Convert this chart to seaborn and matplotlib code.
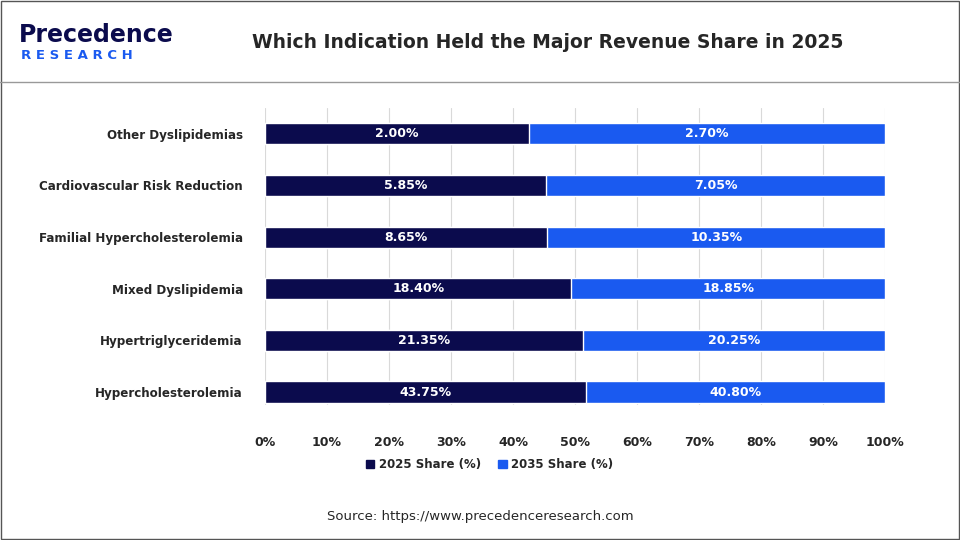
import matplotlib
matplotlib.use("Agg")
import matplotlib.pyplot as plt
import seaborn as sns
import pandas as pd
from matplotlib.patches import Patch, Rectangle

categories = ["Other Dyslipidemias", "Cardiovascular Risk Reduction", "Familial Hypercholesterolemia",
              "Mixed Dyslipidemia", "Hypertriglyceridemia", "Hypercholesterolemia"]
share_2025 = [2.00, 5.85, 8.65, 18.40, 21.35, 43.75]
share_2035 = [2.70, 7.05, 10.35, 18.85, 20.25, 40.80]

c25, c35 = "#0b0b4d", "#1a5af0"
df = pd.DataFrame({"cat": categories, "a": share_2025, "b": share_2035})
df["pa"] = df.a / (df.a + df.b) * 100
df["total"] = 100.0

sns.set_style("white")
plt.rcParams['font.family'] = ['DejaVu Sans']
fig = plt.figure(figsize=(9.6, 5.4), dpi=100)
ax = fig.add_axes([0.276, 0.25, 0.646, 0.55])
sns.barplot(data=df, y="cat", x="total", color=c35, orient="h", width=0.41, ax=ax, saturation=1, zorder=2)
sns.barplot(data=df, y="cat", x="pa", color=c25, orient="h", width=0.41, ax=ax, saturation=1, zorder=3)
for i, r in df.iterrows():
    ax.text(r.pa / 2, i, f"{r.a:.2f}%", color="white", ha="center", va="center", fontsize=9, fontweight="bold", zorder=4)
    ax.text(r.pa + (100 - r.pa) / 2, i, f"{r.b:.2f}%", color="white", ha="center", va="center", fontsize=9, fontweight="bold", zorder=4)
ax.set_xlim(0, 100)
ax.set_ylim(5.25, -0.5)
ax.set_xticks(range(0, 101, 10))
ax.set_xticklabels([f"{v}%" for v in range(0, 101, 10)], fontsize=9, fontweight="bold")
ax.tick_params(axis="y", labelsize=8.6, length=0, pad=16)
for lab in ax.get_yticklabels():
    lab.set_fontweight("bold")
ax.tick_params(axis="x", length=0, pad=22)
ax.set_xlabel(""); ax.set_ylabel("")
ax.grid(axis="x", color="#d9d9d9", linewidth=0.8, zorder=0)
ax.set_axisbelow(True)
for s in ax.spines.values():
    s.set_visible(False)

fig.legend(handles=[Patch(color=c25, label="2025 Share (%)"), Patch(color=c35, label="2035 Share (%)")],
           loc="center", bbox_to_anchor=(0.51, 0.139), ncol=2, frameon=False,
           handlelength=0.7, handleheight=0.7, columnspacing=1.5, handletextpad=0.4,
           prop={"weight": "bold", "size": 8.5})
fig.text(0.57, 0.922, "Which Indication Held the Major Revenue Share in 2025", ha="center", va="center",
         fontsize=13.5, fontweight="bold")
fig.text(0.02, 0.935, "Precedence", fontsize=17, fontweight="bold", color="#0b0b4d", va="center")
fig.text(0.022, 0.898, "R E S E A R C H", fontsize=9.5, fontweight="bold", color="#1a5af0", va="center")
fig.text(0.5, 0.043, "Source: https://www.precedenceresearch.com", ha="center", va="center", fontsize=9.5)
fig.add_artist(plt.Line2D([0, 1], [0.848, 0.848], color="#999999", linewidth=1, transform=fig.transFigure))
fig.add_artist(Rectangle((0.001, 0.001), 0.998, 0.998, fill=False, edgecolor="#555555", linewidth=1, transform=fig.transFigure))
fig.savefig("out.png", dpi=100)
